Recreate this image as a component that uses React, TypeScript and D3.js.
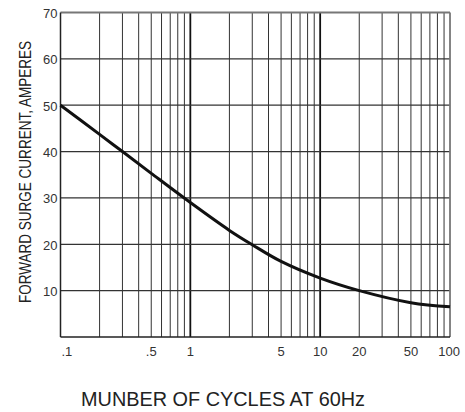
import React from "react";
import * as d3 from "d3";

const cycles = [0.1, 0.2, 0.3, 0.5, 1, 2, 3, 5, 10, 20, 50, 100];
const amperes = [50, 43.7, 40, 35.3, 29, 23, 19.9, 16.3, 12.7, 10, 7.4, 6.5];
const yTicks = [10, 20, 30, 40, 50, 60, 70];
const xTickValues = [0.1, 0.5, 1, 5, 10, 20, 50, 100];
const xTickLabels = [".1", ".5", "1", "5", "10", "20", "50", "100"];
const xTitle = "MUNBER OF CYCLES AT 60Hz";
const yTitle = "FORWARD SURGE CURRENT, AMPERES";

const W = 465;
const H = 412;
const L = 60.5;
const R = 450;
const T = 12.5;
const B = 337;

export default function App() {
  const x = d3.scaleLog().domain([0.1, 100]).range([L, R]);
  const y = d3.scaleLinear().domain([0, 70]).range([B, T]);

  const minor: number[] = [];
  for (const dec of [0.1, 1, 10]) {
    for (let k = 2; k <= 10; k++) {
      const v = +(dec * k).toPrecision(3);
      if (v < 100) minor.push(v);
    }
  }
  const decades = [1, 10];

  const line = d3
    .line<number>()
    .x((_, i) => x(cycles[i]))
    .y((d) => y(d))
    .curve(d3.curveCatmullRom.alpha(0.5));

  const font = "'Liberation Sans', Arial, sans-serif";

  return (
    <svg
      width={W}
      height={H}
      style={{ position: "absolute", left: 0, top: 0, background: "#fff" }}
    >
      {minor
        .filter((v) => !decades.includes(v))
        .map((v) => (
          <line key={"vx" + v} x1={x(v)} x2={x(v)} y1={T} y2={B} stroke="#333" strokeWidth={1} />
        ))}
      {decades.map((v) => (
        <line key={"dx" + v} x1={x(v)} x2={x(v)} y1={T} y2={B} stroke="#111" strokeWidth={1.8} />
      ))}
      {yTicks.slice(0, -1).map((v) => (
        <line key={"hy" + v} x1={L} x2={R} y1={y(v)} y2={y(v)} stroke="#333" strokeWidth={1.2} />
      ))}
      <line x1={L} x2={R} y1={T} y2={T} stroke="#777" strokeWidth={1.8} />
      <line x1={R} x2={R} y1={T} y2={B} stroke="#777" strokeWidth={1.8} />
      <line x1={L} x2={L} y1={T} y2={B} stroke="#222" strokeWidth={1.5} />
      <line x1={L} x2={R} y1={B} y2={B} stroke="#222" strokeWidth={1.5} />

      <path d={line(amperes) || ""} fill="none" stroke="#111" strokeWidth={3} />

      {yTicks.map((v) => (
        <text
          key={"yl" + v}
          x={L - 3}
          y={y(v) + 5.5}
          textAnchor="end"
          fontFamily={font}
          fontSize={13}
          fill="#333"
        >
          {v}
        </text>
      ))}
      {xTickValues.map((v, i) => {
        const first = i === 0;
        const last = i === xTickValues.length - 1;
        return (
          <text
            key={"xl" + v}
            x={first ? x(v) + 1 : last ? x(v) + 10 : x(v)}
            y={356}
            textAnchor={first ? "start" : last ? "end" : "middle"}
            fontFamily={font}
            fontSize={13}
            fill="#333"
          >
            {xTickLabels[i]}
          </text>
        );
      })}
      <text
        x={81}
        y={406}
        fontFamily={font}
        fontSize={21}
        fill="#222"
        textLength={284}
        lengthAdjust="spacingAndGlyphs"
      >
        {xTitle}
      </text>
      <text
        transform={`translate(31, ${(41 + 303) / 2}) rotate(-90)`}
        textAnchor="middle"
        fontFamily={font}
        fontSize={16}
        fill="#222"
        textLength={262}
        lengthAdjust="spacingAndGlyphs"
      >
        {yTitle}
      </text>
    </svg>
  );
}
